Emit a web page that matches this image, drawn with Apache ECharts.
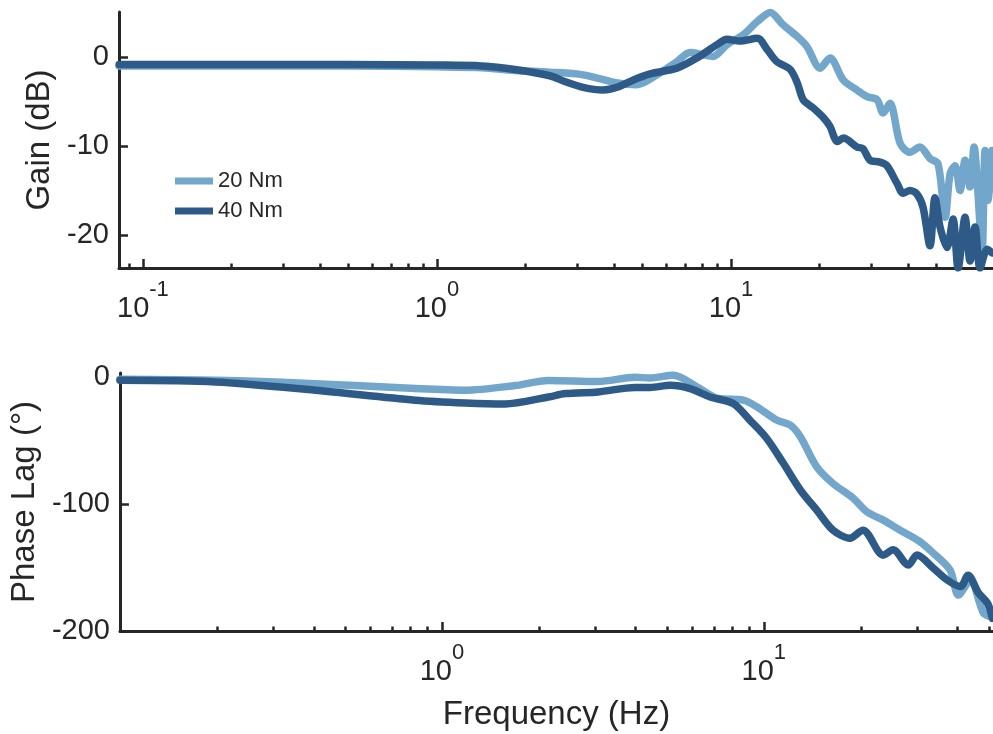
<!DOCTYPE html>
<html><head><meta charset="utf-8">
<script src="https://cdn.jsdelivr.net/npm/echarts@6/dist/echarts.min.js"></script>
<style>html,body{margin:0;padding:0;background:#fff}#c{width:993px;height:734px}</style>
</head><body><div id="c"></div>
<script>
const seriesNames = ['20 Nm', '40 Nm'];
const colors = ['#72a6ca', '#2d5a87'];

// Gain (dB) - 20 Nm
const gainFreq20 = [0.083, 0.2, 0.5, 1.0, 1.42, 1.84, 2.42, 3.14, 4.10, 4.79, 5.60, 6.55, 7.26, 8.03, 8.68, 9.69, 11.0, 12.3, 13.6, 15.0, 16.8, 18.1, 20.1, 21.7, 24.1, 26.8, 29.0, 31.4, 32.9, 34.7, 37.6, 40.6, 43.9, 47.5, 50.6, 53.5, 55.6, 57.8, 60.1, 62.5, 65.0, 67.1, 69.2, 71.4, 73.1, 74.8, 77.2];
const gain20 = [-1.0, -1.0, -1.0, -1.1, -1.2, -1.5, -1.7, -2.0, -2.9, -3.1, -2.0, -0.5, 0.5, 0.26, 0.07, 1.4, 2.5, 4.0, 5.0, 3.65, 2.3, 1.2, -1.25, -0.1, -2.6, -3.7, -4.45, -4.8, -6.3, -5.2, -9.7, -10.7, -10.1, -11.4, -12.0, -18.0, -13.1, -12.2, -15.0, -11.6, -14.6, -10.1, -15.4, -22.1, -10.5, -16.1, -10.5];

// Gain (dB) - 40 Nm
const gainFreq40 = [0.083, 0.2, 0.5, 1.0, 1.42, 1.84, 2.42, 2.72, 3.14, 3.67, 4.10, 4.64, 5.30, 6.55, 7.66, 8.96, 9.69, 10.7, 12.3, 13.3, 14.3, 15.9, 16.8, 17.6, 19.0, 20.6, 21.7, 23.0, 24.1, 26.8, 28.1, 29.7, 32.1, 33.9, 36.7, 38.5, 40.6, 42.9, 45.0, 47.5, 49.4, 51.4, 54.3, 56.9, 59.2, 62.5, 65.0, 67.6, 70.3, 74.3, 77.2];
const gain40 = [-0.85, -0.85, -0.85, -0.9, -1.0, -1.4, -2.1, -2.75, -3.4, -3.7, -3.4, -2.6, -1.9, -1.25, -0.1, 1.4, 2.0, 1.8, 2.1, 0.8, -0.5, -1.4, -2.9, -4.8, -5.7, -6.8, -7.8, -9.5, -9.1, -10.1, -10.3, -11.6, -11.8, -12.2, -14.2, -15.3, -15.0, -15.4, -16.9, -21.2, -15.8, -19.1, -21.4, -18.2, -23.7, -18.0, -22.9, -19.1, -23.7, -21.6, -22.0];

// Phase lag (deg) - 20 Nm
const phaseFreq20 = [0.1, 0.198, 0.404, 0.826, 1.18, 1.69, 2.14, 3.06, 3.98, 4.43, 5.23, 6.21, 7.16, 8.63, 9.53, 11.0, 12.1, 13.0, 14.6, 16.4, 18.9, 20.9, 23.5, 26.5, 30.6, 33.6, 37.9, 40.2, 43.8, 48.1, 51.3];
const phase20 = [-1.6, -2.4, -5, -8.9, -10.2, -6.5, -2.5, -3.3, 0, -0.5, 1.6, -7.6, -16.5, -18, -23.4, -33.9, -37.8, -47, -70.6, -83.7, -95, -106, -112.6, -120.5, -129.7, -138.6, -152, -171.7, -159.8, -185.8, -189];

// Phase lag (deg) - 40 Nm
const phaseFreq40 = [0.1, 0.198, 0.404, 0.826, 1.18, 1.57, 2.14, 2.42, 3.06, 3.98, 4.43, 5.12, 5.9, 6.81, 8.03, 9.06, 10.2, 11.5, 13.0, 14.6, 16.4, 18.5, 20.3, 23.5, 25.2, 28.1, 29.9, 33.6, 37.1, 40.8, 43.1, 46.4, 49.5, 51.3];
const phase40 = [-2.4, -3.7, -10.2, -18, -20.2, -21, -15.5, -12.8, -11.5, -8, -8, -6.3, -8.9, -15.5, -20.6, -33.9, -48, -67.8, -89, -104.7, -120.5, -126.8, -120.5, -140.2, -136, -148, -140, -150.4, -159.8, -165, -156, -170, -178, -190];

// Axis ticks
const gainTicks = [-20, -10, 0];
const phaseTicks = [-200, -100, 0];
const topMajorX = [0.1, 1, 10];
const topMinorX = [0.09, 0.2, 0.3, 0.4, 0.5, 0.6, 0.7, 0.8, 0.9, 2, 3, 4, 5, 6, 7, 8, 9, 20, 30, 40, 50, 60, 70];
const botMajorX = [1, 10];
const botMinorX = [0.2, 0.3, 0.4, 0.5, 0.6, 0.7, 0.8, 0.9, 2, 3, 4, 5, 6, 7, 8, 9, 20, 30, 40, 50];

const FONT = '"Liberation Sans", Arial, Helvetica, sans-serif';
const INK = '#262626';

function pairs(xs, ys) { return xs.map((x, i) => [x, ys[i]]); }

function xAxes(gridIndex, min, max, major, minor, name) {
  return [{
    type: 'log', logBase: 10, gridIndex, min, max, position: 'bottom',
    name: name || '', nameLocation: 'middle', nameGap: 67,
    nameTextStyle: { fontSize: 33, color: INK, fontFamily: FONT },
    axisLine: { show: true, onZero: false, lineStyle: { color: INK, width: 3 } },
    axisTick: { show: true, inside: true, length: 9, customValues: major, lineStyle: { color: INK, width: 2.5 } },
    axisLabel: {
      show: true, customValues: major, margin: 11,
      formatter: v => '{b|10}{s|' + Math.round(Math.log10(v)) + '}',
      rich: {
        b: { fontSize: 29, lineHeight: 60, color: INK, fontFamily: FONT },
        s: { fontSize: 22, lineHeight: 22, verticalAlign: 'top', color: INK, fontFamily: FONT }
      }
    },
    splitLine: { show: false }
  }, {
    type: 'log', logBase: 10, gridIndex, min, max, position: 'bottom',
    axisLine: { show: false, onZero: false },
    axisTick: { show: true, inside: true, length: 4.5, customValues: minor, lineStyle: { color: INK, width: 2.5 } },
    axisLabel: { show: false },
    splitLine: { show: false }
  }];
}

function yAxis(gridIndex, min, max, ticks, name, nameGap) {
  return {
    type: 'value', gridIndex, min, max,
    name, nameLocation: 'middle', nameGap,
    nameTextStyle: { fontSize: 33, color: INK, fontFamily: FONT },
    axisLine: { show: true, onZero: false, lineStyle: { color: INK, width: 3 } },
    axisTick: { show: true, inside: true, length: 9, customValues: ticks, lineStyle: { color: INK, width: 2.5 } },
    axisLabel: { customValues: ticks, fontSize: 29, color: INK, fontFamily: FONT, margin: 10 },
    splitLine: { show: false }
  };
}

function line(name, color, xIdx, yIdx, data) {
  return {
    type: 'line', name, xAxisIndex: xIdx, yAxisIndex: yIdx, data,
    showSymbol: false, symbol: 'none', smooth: 0.3,
    lineStyle: { color, width: 7.5, cap: 'round', join: 'round' },
    itemStyle: { color },
    animation: false
  };
}

const chart = echarts.init(document.getElementById('c'), null, { renderer: 'canvas' });
chart.setOption({
  backgroundColor: '#ffffff',
  animation: false,
  grid: [
    { left: 119, top: 12, right: 0, height: 256 },
    { left: 119, top: 373, right: 0, height: 258 }
  ],
  xAxis: [
    ...xAxes(0, 0.0829, 77.8, topMajorX, topMinorX),
    ...xAxes(1, 0.1, 51.5, botMajorX, botMinorX, 'Frequency (Hz)')
  ],
  yAxis: [
    yAxis(0, -23.7, 5.06, gainTicks, 'Gain (dB)', 50),
    yAxis(1, -200, 3.4, phaseTicks, 'Phase Lag (°)', 67)
  ],
  legend: {
    data: seriesNames, left: 170, top: 165, orient: 'vertical',
    icon: 'rect', itemWidth: 38, itemHeight: 7, itemGap: 8,
    textStyle: { fontSize: 22, lineHeight: 22, color: INK, fontFamily: FONT }
  },
  series: [
    line(seriesNames[0], colors[0], 0, 0, pairs(gainFreq20, gain20)),
    line(seriesNames[1], colors[1], 0, 0, pairs(gainFreq40, gain40)),
    line(seriesNames[0], colors[0], 2, 1, pairs(phaseFreq20, phase20)),
    line(seriesNames[1], colors[1], 2, 1, pairs(phaseFreq40, phase40))
  ]
});
</script></body></html>
